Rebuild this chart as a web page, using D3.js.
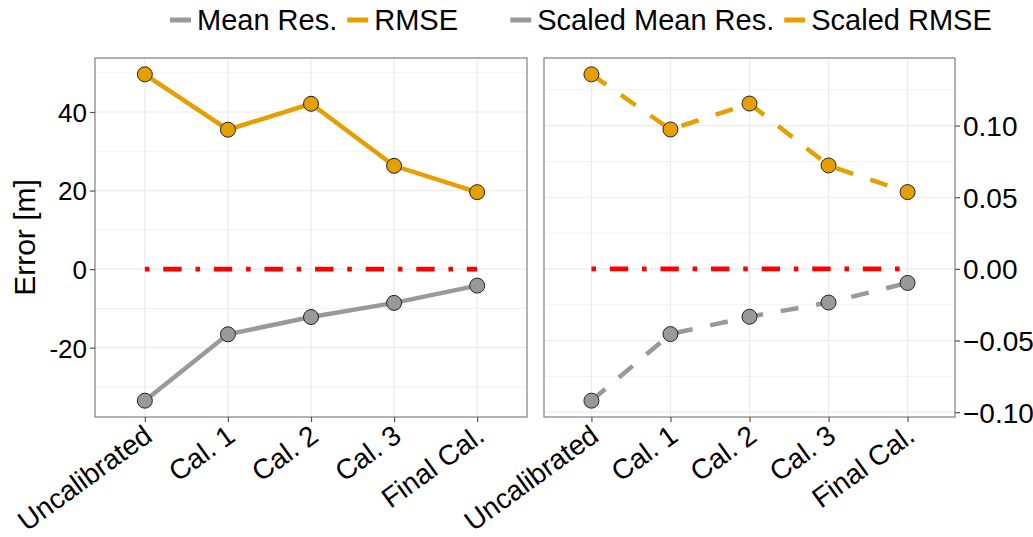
<!DOCTYPE html>
<html>
<head>
<meta charset="utf-8">
<script src="https://cdn.jsdelivr.net/npm/d3@7"></script>
<style>
  body { margin: 0; background: #fff; }
  svg text { font-family: "Liberation Sans", Arial, sans-serif; fill: #000; }
</style>
</head>
<body>
<div id="chart"></div>
<script>
// Data
const categories = ["Uncalibrated", "Cal. 1", "Cal. 2", "Cal. 3", "Final Cal."];
const meanRes = [-33.5, -16.6, -12.2, -8.6, -4.2];
const rmse = [49.6, 35.5, 42.1, 26.3, 19.6];
const scaledMeanRes = [-0.092, -0.0455, -0.0334, -0.0235, -0.0098];
const scaledRmse = [0.1358, 0.0973, 0.1154, 0.0722, 0.0536];
const zeroLine = [0, 0, 0, 0, 0];

const leftTicks = [-20, 0, 20, 40];
const leftMinor = [-30, -10, 10, 30, 50];
const rightTicks = [-0.10, -0.05, 0, 0.05, 0.10];
const rightMinor = [-0.075, -0.025, 0.025, 0.075, 0.125];

const grey = "#999999", orange = "#E69F00";

const svg = d3.select("#chart").append("svg")
    .attr("width", 1033)
    .attr("height", 537);

function expand(values) {
    const [lo, hi] = d3.extent(values);
    const pad = (hi - lo) * 0.05;
    return [lo - pad, hi + pad];
}

function drawPanel(opt) {
    const g = svg.append("g").attr("transform", `translate(${opt.left}, ${opt.top})`);
    const w = opt.width, h = opt.height;

    const x = d3.scalePoint().domain(categories).range([0, w]).padding(0.6);
    const y = d3.scaleLinear().domain(expand(opt.series[0].values.concat(opt.series[1].values))).range([h, 0]);

    // grid
    g.selectAll(".minor").data(opt.minor).enter().append("line")
        .attr("x1", 0).attr("x2", w)
        .attr("y1", d => y(d)).attr("y2", d => y(d))
        .attr("stroke", "#F2F2F2").attr("stroke-width", 1);
    g.selectAll(".major").data(opt.ticks).enter().append("line")
        .attr("x1", 0).attr("x2", w)
        .attr("y1", d => y(d)).attr("y2", d => y(d))
        .attr("stroke", "#EBEBEB").attr("stroke-width", 1.2);
    g.selectAll(".vgrid").data(categories).enter().append("line")
        .attr("x1", d => x(d)).attr("x2", d => x(d))
        .attr("y1", 0).attr("y2", h)
        .attr("stroke", "#EBEBEB").attr("stroke-width", 1.2);

    // zero reference
    const line = d3.line().x((d, i) => x(categories[i])).y(d => y(d));
    g.append("path").datum(zeroLine)
        .attr("d", line)
        .attr("fill", "none").attr("stroke", "#FF0000")
        .attr("stroke-width", 4.6)
        .attr("stroke-dasharray", "4.6,13.8,18.4,13.8");

    opt.series.forEach(s => {
        g.append("path").datum(s.values)
            .attr("d", line)
            .attr("fill", "none").attr("stroke", s.color)
            .attr("stroke-width", 4.5)
            .attr("stroke-dasharray", opt.dashed ? "18,18" : null);
    });
    opt.series.forEach(s => {
        g.selectAll(null).data(s.values).enter().append("circle")
            .attr("cx", (d, i) => x(categories[i]))
            .attr("cy", d => y(d))
            .attr("r", 7.5)
            .attr("fill", s.color)
            .attr("stroke", "#222").attr("stroke-width", 1);
    });

    // border
    g.append("rect").attr("width", w).attr("height", h)
        .attr("fill", "none").attr("stroke", "#7F7F7F").attr("stroke-width", 1.2);

    // axes
    const xAxis = g.append("g").attr("transform", `translate(0, ${h})`)
        .call(d3.axisBottom(x).tickSize(5).tickSizeOuter(0).tickFormat(""));
    xAxis.select(".domain").remove();
    xAxis.selectAll(".tick line").attr("stroke", "#555").attr("stroke-width", 1.2);
    g.selectAll(".xlab").data(categories).enter().append("text")
        .attr("transform", d => `translate(${x(d) - 3}, ${h + 6}) rotate(-36)`)
        .attr("text-anchor", "end")
        .attr("dy", "0.73em")
        .style("font-size", "28px")
        .text(d => d);

    let yAxis;
    if (opt.axisRight) {
        yAxis = g.append("g").attr("transform", `translate(${w}, 0)`)
            .call(d3.axisRight(y).tickValues(opt.ticks).tickSize(5).tickSizeOuter(0).tickFormat(d3.format(".2f")));
    } else {
        yAxis = g.append("g")
            .call(d3.axisLeft(y).tickValues(opt.ticks).tickSize(5).tickSizeOuter(0).tickFormat(d => String(d)));
    }
    yAxis.select(".domain").remove();
    yAxis.selectAll(".tick line").attr("stroke", "#555").attr("stroke-width", 1.2);
    yAxis.selectAll(".tick text")
        .style("font-size", opt.tickFont)
        .style("font-family", "Liberation Sans, Arial, sans-serif")
        .attr("fill", "#000")
        .attr("x", opt.axisRight ? 8 : -8)
        .attr("dy", "0.36em");

    // legend over the panel
    const leg = svg.append("g");
    let cx = 0;
    opt.series.forEach(s => {
        leg.append("line")
            .attr("x1", cx).attr("x2", cx + 21).attr("y1", 0).attr("y2", 0)
            .attr("stroke", s.color).attr("stroke-width", 5);
        const t = leg.append("text")
            .attr("x", cx + 27).attr("dy", "0.36em")
            .style("font-size", "29px")
            .text(s.name);
        cx += 27 + t.node().getComputedTextLength() + 10;
    });
    const legWidth = cx - 10;
    leg.attr("transform", `translate(${opt.legendCenter - legWidth / 2}, 20)`);
}

drawPanel({
    left: 95, top: 58, width: 432, height: 359,
    series: [
        {name: "Mean Res.", values: meanRes, color: grey},
        {name: "RMSE", values: rmse, color: orange}
    ],
    ticks: leftTicks, minor: leftMinor,
    axisRight: false, dashed: false, tickFont: "26px",
    legendCenter: 314
});

drawPanel({
    left: 544, top: 58, width: 411, height: 359,
    series: [
        {name: "Scaled Mean Res.", values: scaledMeanRes, color: grey},
        {name: "Scaled RMSE", values: scaledRmse, color: orange}
    ],
    ticks: rightTicks, minor: rightMinor,
    axisRight: true, dashed: true, tickFont: "28px",
    legendCenter: 751
});

// y axis title
svg.append("text")
    .attr("transform", "translate(24, 237.5) rotate(-90)")
    .attr("text-anchor", "middle")
    .attr("dy", "0.36em")
    .style("font-size", "30px")
    .text("Error [m]");
</script>
</body>
</html>
